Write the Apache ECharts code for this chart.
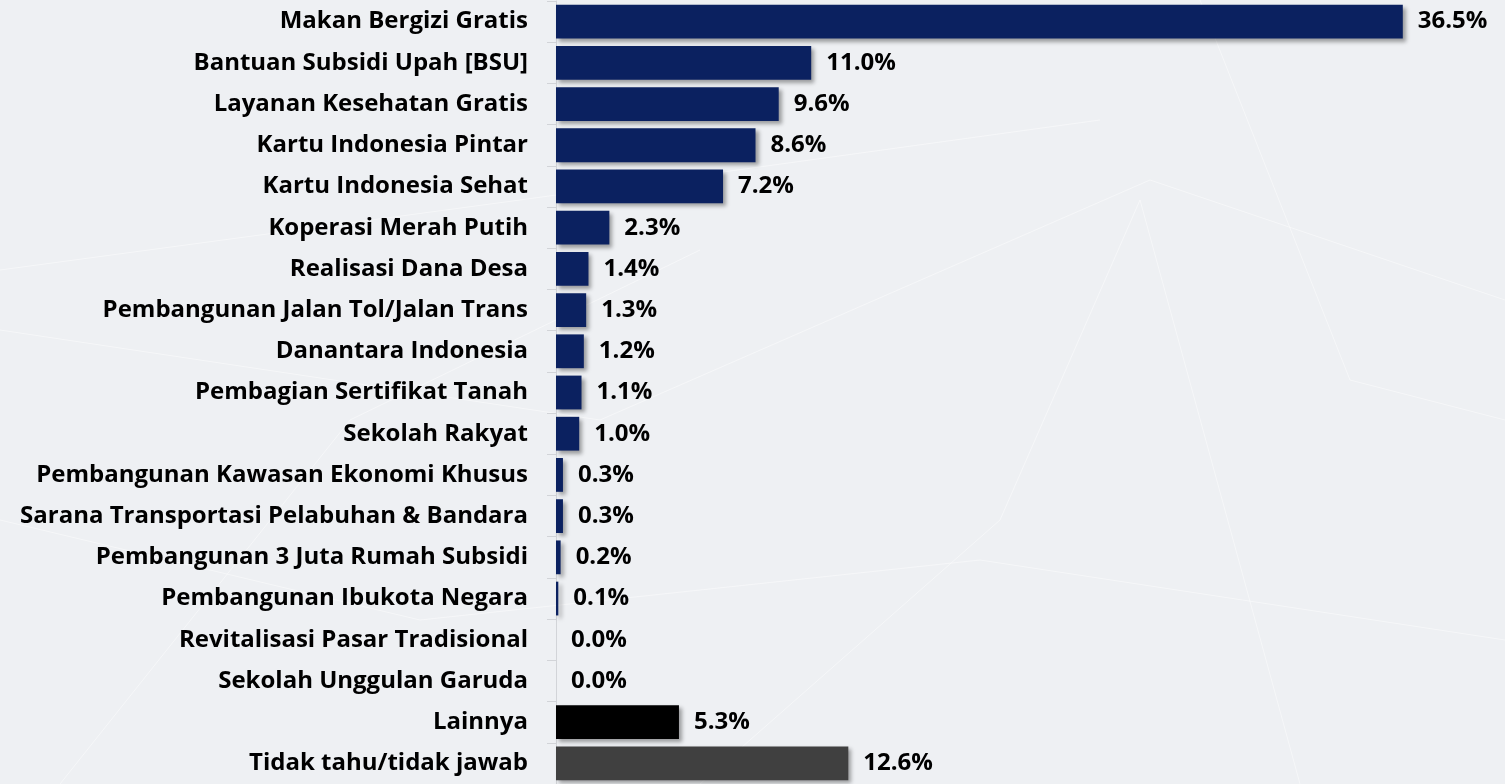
<!DOCTYPE html>
<html>
<head>
<meta charset="utf-8">
<script src="https://cdn.jsdelivr.net/npm/echarts@6/dist/echarts.min.js"></script>
<style>
  html, body { margin: 0; padding: 0; background: #eef0f3; }
  #chart { width: 1505px; height: 784px; }
</style>
</head>
<body>
<div id="chart"></div>
<script>
const categories = [
  'Makan Bergizi Gratis',
  'Bantuan Subsidi Upah [BSU]',
  'Layanan Kesehatan Gratis',
  'Kartu Indonesia Pintar',
  'Kartu Indonesia Sehat',
  'Koperasi Merah Putih',
  'Realisasi Dana Desa',
  'Pembangunan Jalan Tol/Jalan Trans',
  'Danantara Indonesia',
  'Pembagian Sertifikat Tanah',
  'Sekolah Rakyat',
  'Pembangunan Kawasan Ekonomi Khusus',
  'Sarana Transportasi Pelabuhan & Bandara',
  'Pembangunan 3 Juta Rumah Subsidi',
  'Pembangunan Ibukota Negara',
  'Revitalisasi Pasar Tradisional',
  'Sekolah Unggulan Garuda',
  'Lainnya',
  'Tidak tahu/tidak jawab'
];

const values = [36.5, 11.0, 9.6, 8.6, 7.2, 2.3, 1.4, 1.3, 1.2, 1.1, 1.0, 0.3, 0.3, 0.2, 0.1, 0.0, 0.0, 5.3, 12.6];

// colours: programmes navy, "Lainnya" black, "Tidak tahu" dark grey
const navy = '#0b2160';
const specialColors = { 'Lainnya': '#000000', 'Tidak tahu/tidak jawab': '#404040' };

const font = '"Open Sans", sans-serif';

// faint network texture in the background (decoration only)
const streak = (pts) => ({
  type: 'polyline',
  silent: true,
  z: -10,
  shape: { points: pts },
  style: { stroke: 'rgba(255,255,255,0.45)', lineWidth: 1, fill: null }
});

const chart = echarts.init(document.getElementById('chart'));

chart.setOption({
  backgroundColor: '#eef0f3',
  animation: false,
  graphic: [
    streak([[0, 270], [520, 200], [1100, 120]]),
    streak([[0, 330], [600, 420], [1150, 180], [1505, 300]]),
    streak([[60, 784], [350, 420], [700, 250]]),
    streak([[0, 520], [420, 620], [980, 560], [1505, 640]]),
    streak([[700, 784], [1000, 520], [1140, 200], [1300, 784]]),
    streak([[1200, 0], [1350, 380], [1505, 420]])
  ],
  grid: { left: 556, top: 1, width: 928, height: 788, containLabel: false },
  xAxis: {
    type: 'value',
    min: 0,
    max: 40,
    show: false
  },
  yAxis: {
    type: 'category',
    inverse: true,
    data: categories,
    axisLine: { show: true, lineStyle: { color: '#d2d4d8', width: 1 } },
    axisTick: { show: true, length: 9, lineStyle: { color: '#d2d4d8' } },
    axisLabel: {
      margin: 28,
      color: '#000',
      fontFamily: font,
      fontWeight: 'bold',
      fontSize: 24
    },
    splitLine: { show: false }
  },
  series: [{
    type: 'bar',
    data: values,
    barWidth: '82%',
    itemStyle: {
      color: (p) => specialColors[categories[p.dataIndex]] || navy,
      shadowColor: 'rgba(0,0,0,0.35)',
      shadowBlur: 4,
      shadowOffsetX: 3,
      shadowOffsetY: 3
    },
    label: {
      show: true,
      position: 'right',
      distance: 15,
      color: '#000',
      fontFamily: font,
      fontWeight: 'bold',
      fontSize: 24,
      formatter: (p) => p.value.toFixed(1) + '%'
    }
  }]
});
</script>
</body>
</html>
